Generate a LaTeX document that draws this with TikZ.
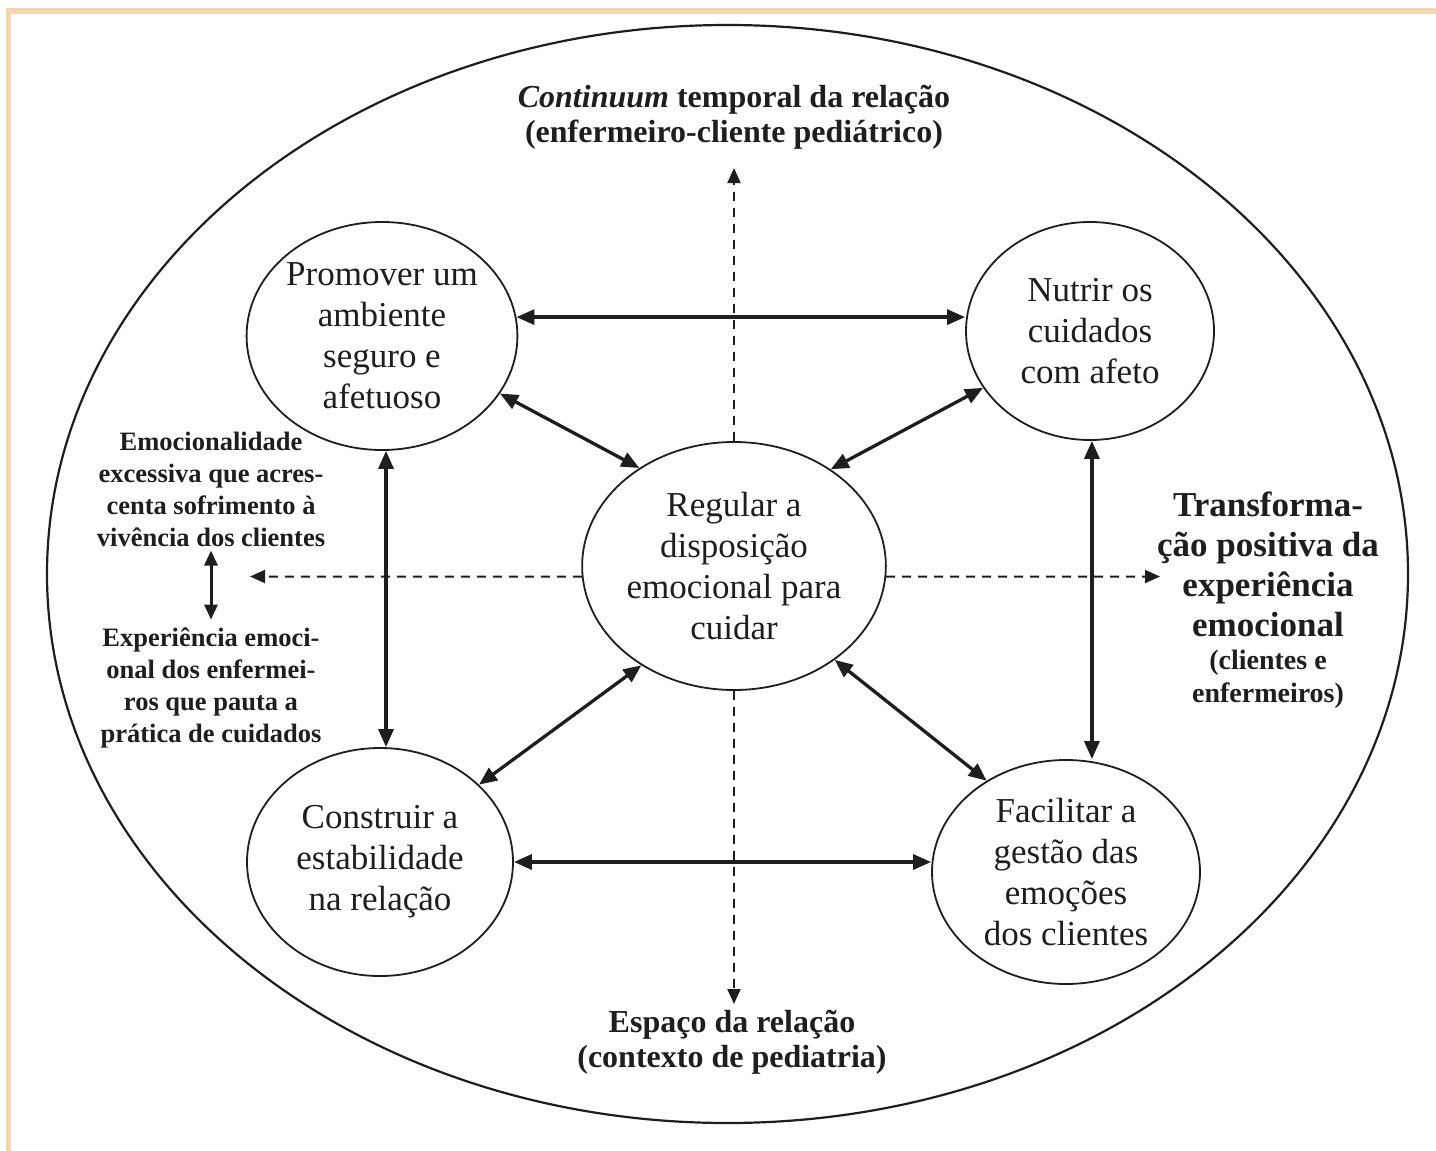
\documentclass[tikz,border=0pt]{standalone}
\usepackage{fontspec}
\setmainfont{Liberation Serif}
\usetikzlibrary{arrows.meta,shapes.geometric}
\definecolor{peach}{RGB}{244,214,178}
\definecolor{ink}{RGB}{30,30,30}
\begin{document}
\begin{tikzpicture}[x=1pt,y=-1pt,
  every node/.style={text=ink},
  bubble/.style={ellipse, draw=ink, line width=1.8pt, fill=white, inner sep=0pt, align=center,
    font=\fontsize{35}{41}\selectfont},
  link/.style={line width=3.3pt, draw=ink,
    {Triangle[length=18pt,width=15pt]}-{Triangle[length=18pt,width=15pt]}},
  dasharrow/.style={line width=2pt, draw=ink, dash pattern=on 9pt off 7pt,
    -{Triangle[length=15pt,width=13pt]}},
  sidetext/.style={align=center, inner sep=0pt, font=\bfseries\fontsize{26.5}{32}\selectfont},
  axistext/.style={align=center, inner sep=0pt, font=\bfseries\fontsize{32}{35}\selectfont},
  righttitle/.style={align=center, inner sep=0pt, font=\bfseries\fontsize{35}{40}\selectfont},
  rightsub/.style={align=center, inner sep=0pt, font=\bfseries\fontsize{28}{33}\selectfont}
]
\useasboundingbox (0,0) rectangle (1436,1151);
\fill[white] (0,0) rectangle (1436,1151);
% peach frame edges
\fill[peach] (6,8) rectangle (1436,14);
\fill[peach] (6,8) rectangle (11,1151);

% outer ellipse
\draw[ink, line width=2.2pt] (727.5,574) ellipse [x radius=680.5pt, y radius=549pt];

% nodes
\node[bubble, minimum width=302pt, minimum height=248pt] (c) at (734,566)
  {Regular a\\disposição\\emocional para\\cuidar};
\node[bubble, minimum width=268pt, minimum height=228pt] (tl) at (382,336)
  {Promover um\\ambiente\\seguro e\\afetuoso};
\node[bubble, minimum width=248pt, minimum height=218pt] (tr) at (1090,331)
  {Nutrir os\\cuidados\\com afeto};
\node[bubble, minimum width=266pt, minimum height=228pt] (bl) at (380,862)
  {Construir a\\estabilidade\\na relação};
\node[bubble, minimum width=268pt, minimum height=224pt] (br) at (1066,872)
  {Facilitar a\\gestão das\\emoções\\dos clientes};

% texts
\node[axistext] (toplab) at (734,117)
  {\textit{Continuum} temporal da relação\\(enfermeiro-cliente pediátrico)};
\node[axistext] (botlab) at (732,1042)
  {Espaço da relação\\(contexto de pediatria)};
\node[sidetext] (ltop) at (211,489)
  {Emocionalidade\\excessiva que acres-\\centa sofrimento à\\vivência dos clientes};
\node[sidetext] (lbot) at (211,688)
  {Experiência emoci-\\onal dos enfermei-\\ros que pauta a\\prática de cuidados};
\node[righttitle] (rt) at (1268,564)
  {Transforma-\\ção positiva da\\experiência\\emocional};
\node[rightsub] (rs) at (1268,679)
  {(clientes e\\enfermeiros)};

% free ends of dashed axes
\coordinate (ctop) at (734,168);
\coordinate (cbot) at (734,1004);
\coordinate (cleft) at (250,576.5);
\coordinate (cright) at (1160,576.5);

% dashed axes
\draw[dasharrow] (c.north) -- (ctop);
\draw[dasharrow] (c.south) -- (cbot);
\draw[dasharrow] (c.184) -- (cleft);
\draw[dasharrow] (c.-4) -- (cright);

% solid connectors
\draw[link] (tl.8) -- (tl.8 -| tr.west);
\draw[link] (bl.east) -- (bl.east -| br.west);
\draw[link] (tl.-88) -- (tl.-88 |- bl.north);
\draw[link] (tr.-89) -- (tr.-89 |- br.north);
\draw[link] (tl.-26) -- (c.134);
\draw[link] (tr.208) -- (c.45.5);
\draw[link] (bl.38.5) -- (c.227.4);
\draw[link] (br.131.6) -- (c.-43);

% small left double arrow
\draw[line width=3pt, draw=ink, {Triangle[length=15pt,width=13pt]}-{Triangle[length=15pt,width=13pt]}, shorten <=4pt, shorten >=8pt]
  (ltop.south) -- (ltop.south |- lbot.north);
\end{tikzpicture}
\end{document}
